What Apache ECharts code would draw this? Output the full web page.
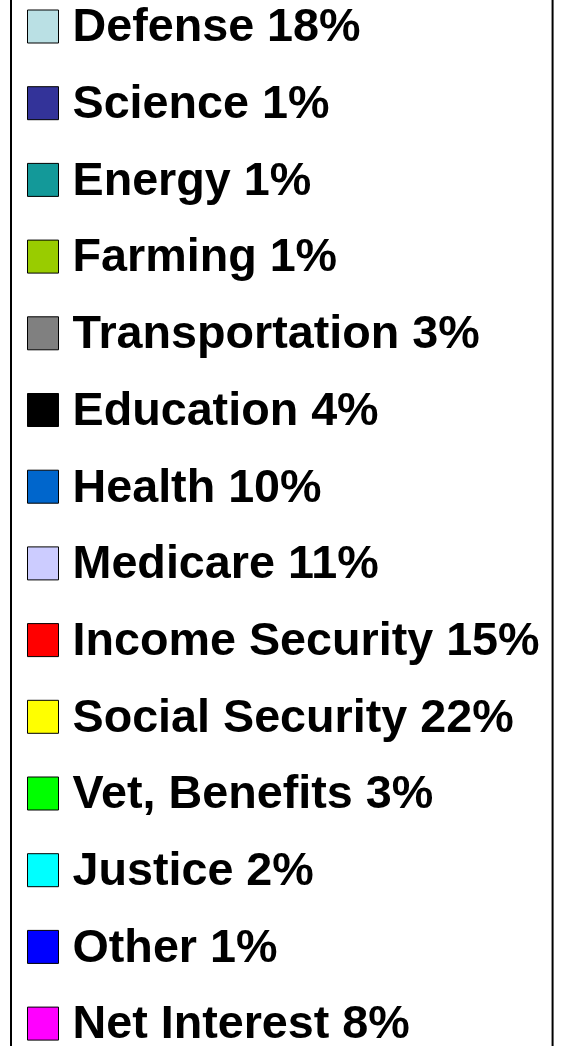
<!DOCTYPE html>
<html>
<head>
<meta charset="utf-8">
<script src="https://cdn.jsdelivr.net/npm/echarts@6/dist/echarts.min.js"></script>
<style>
html,body{margin:0;padding:0;background:#fff;overflow:hidden;width:565px;height:1046px;}
#chart{position:absolute;left:0;top:-100px;width:565px;height:1300px;}
</style>
</head>
<body>
<div id="chart"></div>
<script>
const categories = ['Defense','Science','Energy','Farming','Transportation','Education','Health','Medicare','Income Security','Social Security','Vet, Benefits','Justice','Other','Net Interest'];
const shares = [18,1,1,1,3,4,10,11,15,22,3,2,1,8];
const colors = ['#BAE0E4','#333399','#139999','#99CC00','#808080','#000000','#0066CC','#CCCCFF','#FF0000','#FFFF00','#00FF00','#00FFFF','#0000FF','#FF00FF'];

const shareByName = {};
categories.forEach((c, i) => { shareByName[c] = shares[i]; });

const chart = echarts.init(document.getElementById('chart'), null, {renderer: 'canvas'});
chart.setOption({
  animation: false,
  color: colors,
  legend: {
    orient: 'vertical',
    left: 11,
    top: 91,
    padding: [10, 13, 10, 16],
    borderColor: '#000',
    borderWidth: 2,
    icon: 'rect',
    itemWidth: 31,
    itemHeight: 33,
    itemGap: 25.7,
    itemStyle: {borderColor: '#000', borderWidth: 1},
    textStyle: {
      fontFamily: 'Liberation Sans',
      fontWeight: 'bold',
      fontSize: 46.7,
      color: '#000',
      rich: {
        t: {
          fontFamily: 'Liberation Sans',
          fontWeight: 'bold',
          fontSize: 46.7,
          lineHeight: 46,
          color: '#000',
          padding: [4, 0, 0, 9]
        }
      }
    },
    formatter: name => '{t|' + name + ' ' + shareByName[name] + '%}',
    data: categories
  },
  series: [{
    type: 'pie',
    center: [-2000, -2000],
    radius: 50,
    label: {show: false},
    data: categories.map((c, i) => ({name: c, value: shares[i]}))
  }]
});
</script>
</body>
</html>
